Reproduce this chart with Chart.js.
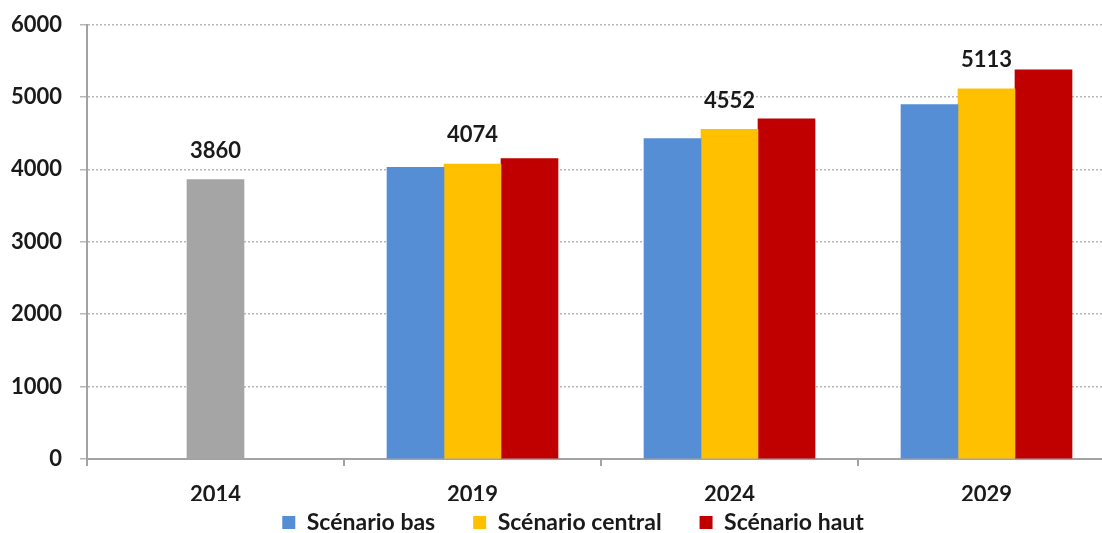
<!DOCTYPE html>
<html lang="fr">
<head>
<meta charset="utf-8">
<title>Scénarios</title>
<script src="https://cdn.jsdelivr.net/npm/chart.js@4/dist/chart.umd.min.js"></script>
<style>
    html, body { margin: 0; padding: 0; background: #fff; overflow: hidden; }
    #wrap { width: 1116px; height: 533px; position: relative; }
</style>
</head>
<body>
<div id="wrap"><canvas id="scenarioChart"></canvas></div>
<script>
const years = ["2014", "2019", "2024", "2029"];
const observed = [3860, null, null, null];
const scenarioBas = [null, 4027, 4424, 4894];
const scenarioCentral = [null, 4074, 4552, 5113];
const scenarioHaut = [null, 4148, 4697, 5377];

const textColor = "#1a1a1a";
const axisColor = "#a3a3a3";
const boldFont = { family: "Lato", weight: "bold", size: 22 };
const legendFont = { family: "Lato", weight: "bold", size: 23 };

// trailing blanks widen the gaps between legend entries
const legendGaps = ["     ", "     ", "          "];

// values written above the grey bar and the central scenario
const valueLabels = {
    id: "valueLabels",
    afterDatasetsDraw(chart) {
        const ctx = chart.ctx;
        ctx.save();
        ctx.font = "bold 22px Lato";
        ctx.fillStyle = textColor;
        ctx.textAlign = "center";
        ctx.textBaseline = "middle";
        chart.data.datasets.forEach((ds, i) => {
            if (!ds.showValue) return;
            chart.getDatasetMeta(i).data.forEach((bar, j) => {
                const v = ds.data[j];
                if (v === null) return;
                ctx.fillText(String(v), bar.x, bar.y - 29);
            });
        });
        ctx.restore();
    }
};

new Chart(document.getElementById("scenarioChart"), {
    type: "bar",
    data: {
        labels: years,
        datasets: [
            { label: "2014", data: observed, backgroundColor: "#a5a5a5", showValue: true },
            { label: "Scénario bas", data: scenarioBas, backgroundColor: "#558ed5" },
            { label: "Scénario central", data: scenarioCentral, backgroundColor: "#ffc000", showValue: true },
            { label: "Scénario haut", data: scenarioHaut, backgroundColor: "#c00000" }
        ]
    },
    options: {
        responsive: true,
        maintainAspectRatio: false,
        animation: false,
        skipNull: true,
        barThickness: 57,
        layout: { padding: { top: 0, right: 1, left: 0, bottom: 0 } },
        plugins: {
            tooltip: { enabled: false },
            legend: {
                position: "bottom",
                fullSize: false,
                maxHeight: 32,
                labels: {
                    color: textColor,
                    font: legendFont,
                    boxWidth: 13,
                    boxHeight: 13,
                    padding: 10,
                    generateLabels(chart) {
                        const items = Chart.defaults.plugins.legend.labels.generateLabels(chart)
                            .filter(item => item.datasetIndex > 0);
                        items.forEach((item, k) => {
                            item.lineWidth = 0;
                            item.text += legendGaps[k];
                        });
                        return items;
                    }
                }
            }
        },
        scales: {
            x: {
                afterFit(scale) { scale.height = 42; },
                grid: {
                    offset: true,
                    drawOnChartArea: false,
                    color: axisColor,
                    lineWidth: 2,
                    tickLength: 7
                },
                border: { color: axisColor, width: 2 },
                ticks: { color: textColor, font: boldFont, padding: 16 }
            },
            y: {
                min: 0,
                max: 6000,
                afterFit(scale) { scale.width = 87; },
                grid: {
                    color: "#b8b8b8",
                    lineWidth: 1.5,
                    tickLength: 7
                },
                border: { color: axisColor, width: 2, dash: [2, 2] },
                ticks: {
                    stepSize: 1000,
                    color: textColor,
                    // small lineHeight keeps the top label from pushing the plot down
                    font: { family: "Lato", weight: "bold", size: 22, lineHeight: 0.6 },
                    padding: 18,
                    callback: value => String(value)
                }
            }
        }
    },
    plugins: [valueLabels]
});
</script>
</body>
</html>
